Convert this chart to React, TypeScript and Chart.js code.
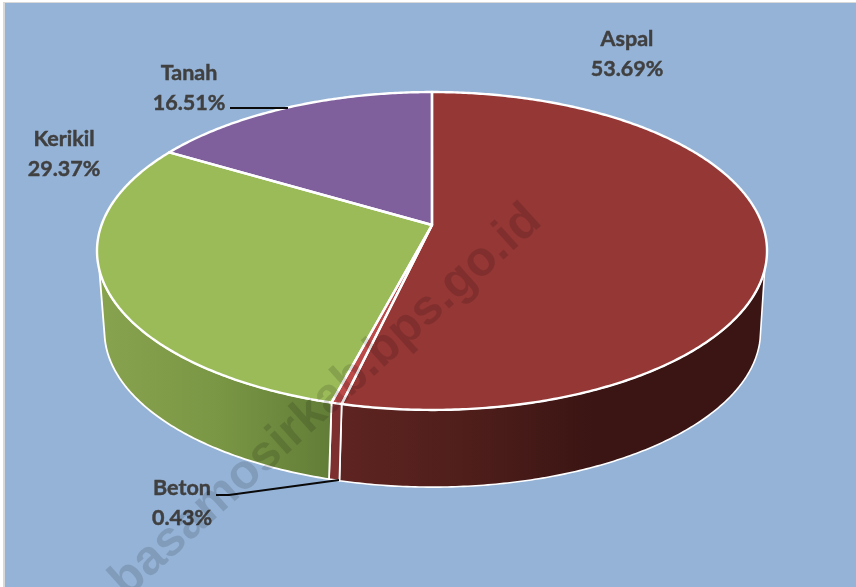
import React, { useEffect, useRef } from "react";
import { Chart, registerables } from "chart.js";

Chart.register(...registerables);

const categories = ["Aspal", "Beton", "Kerikil", "Tanah"];
const values = [53.69, 0.43, 29.37, 16.51];
const topColors = ["#953735", "#BC4A49", "#9BBB59", "#7F609D"];
const wallColors = [
  ["#5E2421", "#4F1E1B", "#3A1513"],
  ["#7C2F2E", "#7C2F2E", "#7C2F2E"],
  ["#88A34F", "#7A9745", "#627D37"],
  ["#5A4570", "#5A4570", "#5A4570"],
];
const labelAnchors = [
  [627, 39],
  [182, 488],
  [64, 139],
  [189, 73],
];
const leaderLines = [
  [],
  [[216, 495], [229, 495], [339, 480]],
  [],
  [[230, 108], [288, 108]],
];
const watermark = "basamosirkab.bps.go.id";

const W = 856;
const H = 587;
const K = 0.1635;
const TOP = { cx: 432, cy: 225, a: 330.5, b: 154.7 };
const BOTTOM = { cx: 432.5, cy: 306, a: 323.6, b: 151.5 };
const WALL_LIMIT = (16 * Math.PI) / 180;
const WALL_STRETCH = 1.054;

type Disc = typeof TOP;

const project = (d: Disc, t: number) => {
  const u = Math.cos(t);
  const v = Math.sin(t);
  const q = 1 - K * v;
  return [d.cx + (d.a * u) / q, d.cy + (d.b * v) / q];
};

const arcPoints = (d: Disc, from: number, to: number, map = (t: number) => t) => {
  const n = Math.max(2, Math.ceil(Math.abs(to - from) / 0.01));
  const pts: number[][] = [];
  for (let i = 0; i <= n; i++) pts.push(project(d, map(from + ((to - from) * i) / n)));
  return pts;
};

const trace = (ctx: CanvasRenderingContext2D, pts: number[][]) => {
  pts.forEach((p, i) => (i ? ctx.lineTo(p[0], p[1]) : ctx.moveTo(p[0], p[1])));
};

const bottomAngle = (t: number) => Math.PI / 2 + (t - Math.PI / 2) * WALL_STRETCH;

const scenePlugin = {
  id: "scene",
  beforeDraw(chart: Chart) {
    const ctx = chart.ctx;
    ctx.save();
    ctx.fillStyle = "#FFFFFF";
    ctx.fillRect(0, 0, W, H);
    ctx.fillStyle = "#D9D9D9";
    ctx.fillRect(3, 2, W - 3, H - 2);
    ctx.fillStyle = "#95B3D7";
    ctx.fillRect(5, 3, W - 5, H - 3);
    ctx.restore();
  },
  beforeDatasetsDraw(chart: Chart) {
    const ctx = chart.ctx;
    const arcs = chart.getDatasetMeta(0).data as any[];
    ctx.save();
    ctx.lineJoin = "round";

    // front wall
    arcs.forEach((arc, i) => {
      const from = Math.max(arc.startAngle, WALL_LIMIT);
      const to = Math.min(arc.endAngle, Math.PI - WALL_LIMIT);
      if (to <= from) return;
      const upper = arcPoints(TOP, from, to);
      const lower = arcPoints(BOTTOM, to, from, bottomAngle);
      const xs = upper.concat(lower).map((p) => p[0]);
      const x0 = Math.min(...xs);
      const x1 = Math.max(...xs);
      const g = ctx.createLinearGradient(x0, 0, i === 0 ? x0 + (x1 - x0) * 0.6 : x1, 0);
      const stops = wallColors[i];
      g.addColorStop(0, stops[0]);
      g.addColorStop(0.5, stops[1]);
      g.addColorStop(1, stops[2]);
      ctx.beginPath();
      trace(ctx, upper.concat(lower));
      ctx.closePath();
      ctx.fillStyle = g;
      ctx.fill();
      ctx.strokeStyle = "#FFFFFF";
      ctx.lineWidth = i === 0 ? 1.6 : 1.8;
      ctx.stroke();
    });

    // top face
    arcs.forEach((arc, i) => {
      ctx.beginPath();
      ctx.moveTo(TOP.cx, TOP.cy);
      arcPoints(TOP, arc.startAngle, arc.endAngle).forEach((p) => ctx.lineTo(p[0], p[1]));
      ctx.closePath();
      ctx.fillStyle = topColors[i];
      ctx.fill();
    });
    arcs.forEach((arc) => {
      ctx.beginPath();
      ctx.moveTo(TOP.cx, TOP.cy);
      arcPoints(TOP, arc.startAngle, arc.endAngle).forEach((p) => ctx.lineTo(p[0], p[1]));
      ctx.closePath();
      ctx.strokeStyle = "#FFFFFF";
      ctx.lineWidth = 2.4;
      ctx.stroke();
    });
    ctx.restore();
    return false;
  },
  afterDraw(chart: Chart) {
    const ctx = chart.ctx;
    ctx.save();

    // leader lines
    ctx.strokeStyle = "#0A0A0A";
    ctx.lineWidth = 1.8;
    leaderLines.forEach((line) => {
      if (!line.length) return;
      ctx.beginPath();
      trace(ctx, line);
      ctx.stroke();
    });

    // data labels
    ctx.fillStyle = "#404040";
    ctx.strokeStyle = "#404040";
    ctx.lineWidth = 0.45;
    ctx.font = "bold 21.5px Lato, 'Noto Sans', sans-serif";
    ctx.textAlign = "center";
    ctx.textBaseline = "middle";
    categories.forEach((name, i) => {
      const [x, y] = labelAnchors[i];
      const pct = values[i].toFixed(2) + "%";
      ctx.fillText(name, x, y);
      ctx.strokeText(name, x, y);
      ctx.fillText(pct, x, y + 30);
      ctx.strokeText(pct, x, y + 30);
    });

    // watermark
    ctx.translate(326, 401);
    ctx.rotate((-42 * Math.PI) / 180);
    ctx.fillStyle = "rgba(0,0,0,0.13)";
    ctx.font = "bold 49px 'Liberation Sans', Arial, sans-serif";
    ctx.fillText(watermark, 0, 0);
    ctx.restore();
  },
};

export default function App() {
  const ref = useRef<HTMLCanvasElement | null>(null);
  useEffect(() => {
    document.body.style.margin = "0";
    const chart = new Chart(ref.current!, {
      type: "pie",
      data: {
        labels: categories,
        datasets: [{ data: values, backgroundColor: topColors, borderColor: "#FFFFFF", borderWidth: 2 }],
      },
      options: {
        responsive: false,
        animation: false,
        events: [],
        plugins: { legend: { display: false }, tooltip: { enabled: false } },
      },
      plugins: [scenePlugin as any],
    });
    return () => chart.destroy();
  }, []);
  return (
    <div style={{ width: W, height: H, overflow: "hidden" }}>
      <canvas ref={ref} width={W} height={H} style={{ display: "block", width: W, height: H }} />
    </div>
  );
}
